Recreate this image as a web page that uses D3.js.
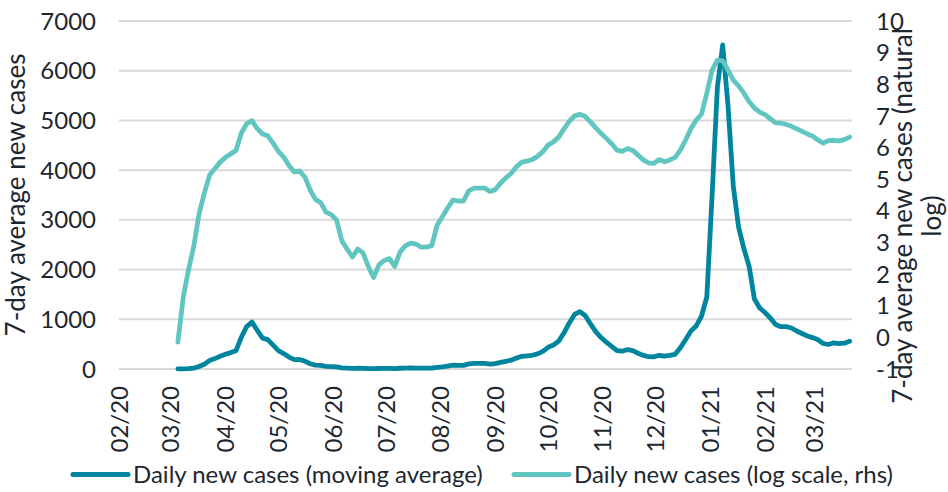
<!DOCTYPE html>
<html>
<head>
<meta charset="utf-8">
<script src="https://cdnjs.cloudflare.com/ajax/libs/d3/7.8.5/d3.min.js"></script>
<style>
  html, body { margin: 0; padding: 0; background: #ffffff; }
  svg { display: block; }
  text { font-family: Lato, "Open Sans", sans-serif; fill: #1d2730; }
</style>
</head>
<body>
<div id="chart"></div>
<script>
// ---------------- DATA ----------------
const seriesStart = "2020-03-05";   // first observation
const seriesStepDays = 3;           // observations every 3 days
const movingAverage = [
  1, 3, 8, 18, 49, 96, 169, 209, 255, 296, 330, 369, 639, 854, 944, 780,
  620, 590, 480, 370, 310, 240, 187, 192, 159, 106, 78, 71, 52, 48, 41, 21,
  16, 13, 16, 14, 9, 7, 10, 11, 12, 9, 15, 18, 20, 19, 17, 17,
  18, 34, 45, 60, 77, 74, 74, 103, 112, 112, 112, 100, 107, 132, 154, 178,
  219, 255, 262, 276, 305, 354, 437, 483, 561, 728, 925, 1097, 1153, 1075, 907, 750,
  633, 539, 455, 372, 358, 391, 369, 317, 273, 247, 245, 276, 257, 273, 296, 428,
  593, 764, 865, 1066, 1448, 3500, 5673, 6518, 5311, 3681, 2857, 2424, 2062, 1408, 1227, 1137,
  1026, 895, 851, 851, 825, 764, 714, 664, 632, 587, 513, 493, 525, 511, 519, 559
];
const logScale = [
  -0.15, 1.25, 2.13, 2.87, 3.90, 4.56, 5.13, 5.34, 5.54, 5.69, 5.80, 5.91, 6.46, 6.75, 6.85, 6.60,
  6.43, 6.37, 6.14, 5.88, 5.70, 5.43, 5.23, 5.26, 5.07, 4.66, 4.36, 4.26, 3.96, 3.88, 3.71, 3.05,
  2.79, 2.54, 2.79, 2.67, 2.24, 1.89, 2.29, 2.43, 2.49, 2.24, 2.70, 2.89, 2.98, 2.95, 2.85, 2.85,
  2.90, 3.54, 3.81, 4.09, 4.34, 4.31, 4.31, 4.63, 4.72, 4.72, 4.72, 4.61, 4.67, 4.88, 5.04, 5.18,
  5.39, 5.54, 5.57, 5.62, 5.72, 5.87, 6.08, 6.18, 6.33, 6.59, 6.83, 7.00, 7.05, 6.98, 6.81, 6.62,
  6.45, 6.29, 6.12, 5.92, 5.88, 5.97, 5.91, 5.76, 5.61, 5.51, 5.50, 5.62, 5.55, 5.61, 5.69, 5.92,
  6.24, 6.60, 6.87, 7.06, 7.72, 8.45, 8.76, 8.74, 8.45, 8.13, 7.95, 7.72, 7.45, 7.25, 7.12, 7.04,
  6.91, 6.78, 6.77, 6.73, 6.67, 6.59, 6.51, 6.43, 6.36, 6.24, 6.14, 6.22, 6.23, 6.21, 6.25, 6.33
];
const leftTicks = [0, 1000, 2000, 3000, 4000, 5000, 6000, 7000];
const rightTicks = [-1, 0, 1, 2, 3, 4, 5, 6, 7, 8, 9, 10];
const axisStart = "2020-02-01";
const axisEnd = "2021-03-22";
const seriesNames = ["Daily new cases (moving average)", "Daily new cases (log scale, rhs)"];
const leftTitle = "7-day average new cases";
const rightTitleLines = ["7-day average new cases (natural", "log)"];
const colors = ["#00859e", "#62c6c0"];

// ---------------- LAYOUT ----------------
const W = 948, H = 492;
const FONT = 24, TITLE_FONT = 26;

const parse = d3.timeParse("%Y-%m-%d");
const t0 = parse(seriesStart);
const dates = movingAverage.map((_, i) => d3.timeDay.offset(t0, i * seriesStepDays));

const x = d3.scaleTime().domain([parse(axisStart), parse(axisEnd)]).range([119.7, 851.4]);
const yL = d3.scaleLinear().domain([0, 7000]).range([369, 21]);
const yR = d3.scaleLinear().domain([-1, 10]).range([369, 21]);
const plotL = 119, plotR = 852;

const svg = d3.select("#chart").append("svg")
  .attr("width", W).attr("height", H)
  .attr("viewBox", `0 0 ${W} ${H}`);

// gridlines
svg.append("g").selectAll("line").data(leftTicks).join("line")
  .attr("x1", plotL).attr("x2", plotR)
  .attr("y1", d => yL(d)).attr("y2", d => yL(d))
  .attr("stroke", "#d9d9d9").attr("stroke-width", 2);

// left tick labels
svg.append("g").selectAll("text").data(leftTicks).join("text")
  .attr("x", 96).attr("y", d => yL(d)).attr("dy", "0.36em")
  .attr("text-anchor", "end").style("font-size", FONT + "px")
  .text(d => d);

// right tick labels
svg.append("g").selectAll("text").data(rightTicks).join("text")
  .attr("x", 876).attr("y", d => yR(d)).attr("dy", "0.36em")
  .attr("text-anchor", "start").style("font-size", FONT + "px")
  .text(d => d);

// x tick labels (monthly)
const months = d3.timeMonth.range(parse(axisStart), parse("2021-03-02"));
const fmt = d3.timeFormat("%m/%y");
svg.append("g").selectAll("text").data(months).join("text")
  .attr("transform", d => `translate(${x(d)},386) rotate(-90)`)
  .attr("dy", "0.36em").attr("text-anchor", "end")
  .style("font-size", FONT + "px")
  .text(d => fmt(d));

// axis titles
svg.append("text")
  .attr("transform", `translate(25,195) rotate(-90)`)
  .attr("text-anchor", "middle").style("font-size", TITLE_FONT + "px")
  .text(leftTitle);
svg.append("g").selectAll("text").data(rightTitleLines).join("text")
  .attr("transform", (d, i) => `translate(${912 + i * 29},216) rotate(-90)`)
  .attr("text-anchor", "middle").style("font-size", TITLE_FONT + "px")
  .text(d => d);

// lines
const lineL = d3.line().x((d, i) => x(dates[i])).y(d => yL(d));
const lineR = d3.line().x((d, i) => x(dates[i])).y(d => yR(d));
svg.append("path").datum(movingAverage)
  .attr("d", lineL).attr("fill", "none").attr("stroke", colors[0])
  .attr("stroke-width", 4.8).attr("stroke-linejoin", "round").attr("stroke-linecap", "round");
svg.append("path").datum(logScale)
  .attr("d", lineR).attr("fill", "none").attr("stroke", colors[1])
  .attr("stroke-width", 4.8).attr("stroke-linejoin", "round").attr("stroke-linecap", "round");

// legend
const legendItems = [{ x: 73, name: seriesNames[0], c: colors[0] }, { x: 514, name: seriesNames[1], c: colors[1] }];
const lg = svg.append("g").selectAll("g").data(legendItems).join("g");
lg.append("line")
  .attr("x1", d => d.x).attr("x2", d => d.x + 55)
  .attr("y1", 474.5).attr("y2", 474.5)
  .attr("stroke", d => d.c).attr("stroke-width", 5).attr("stroke-linecap", "round");
lg.append("text")
  .attr("x", d => d.x + 60).attr("y", 482.5)
  .style("font-size", FONT + "px")
  .text(d => d.name);
</script>
</body>
</html>
